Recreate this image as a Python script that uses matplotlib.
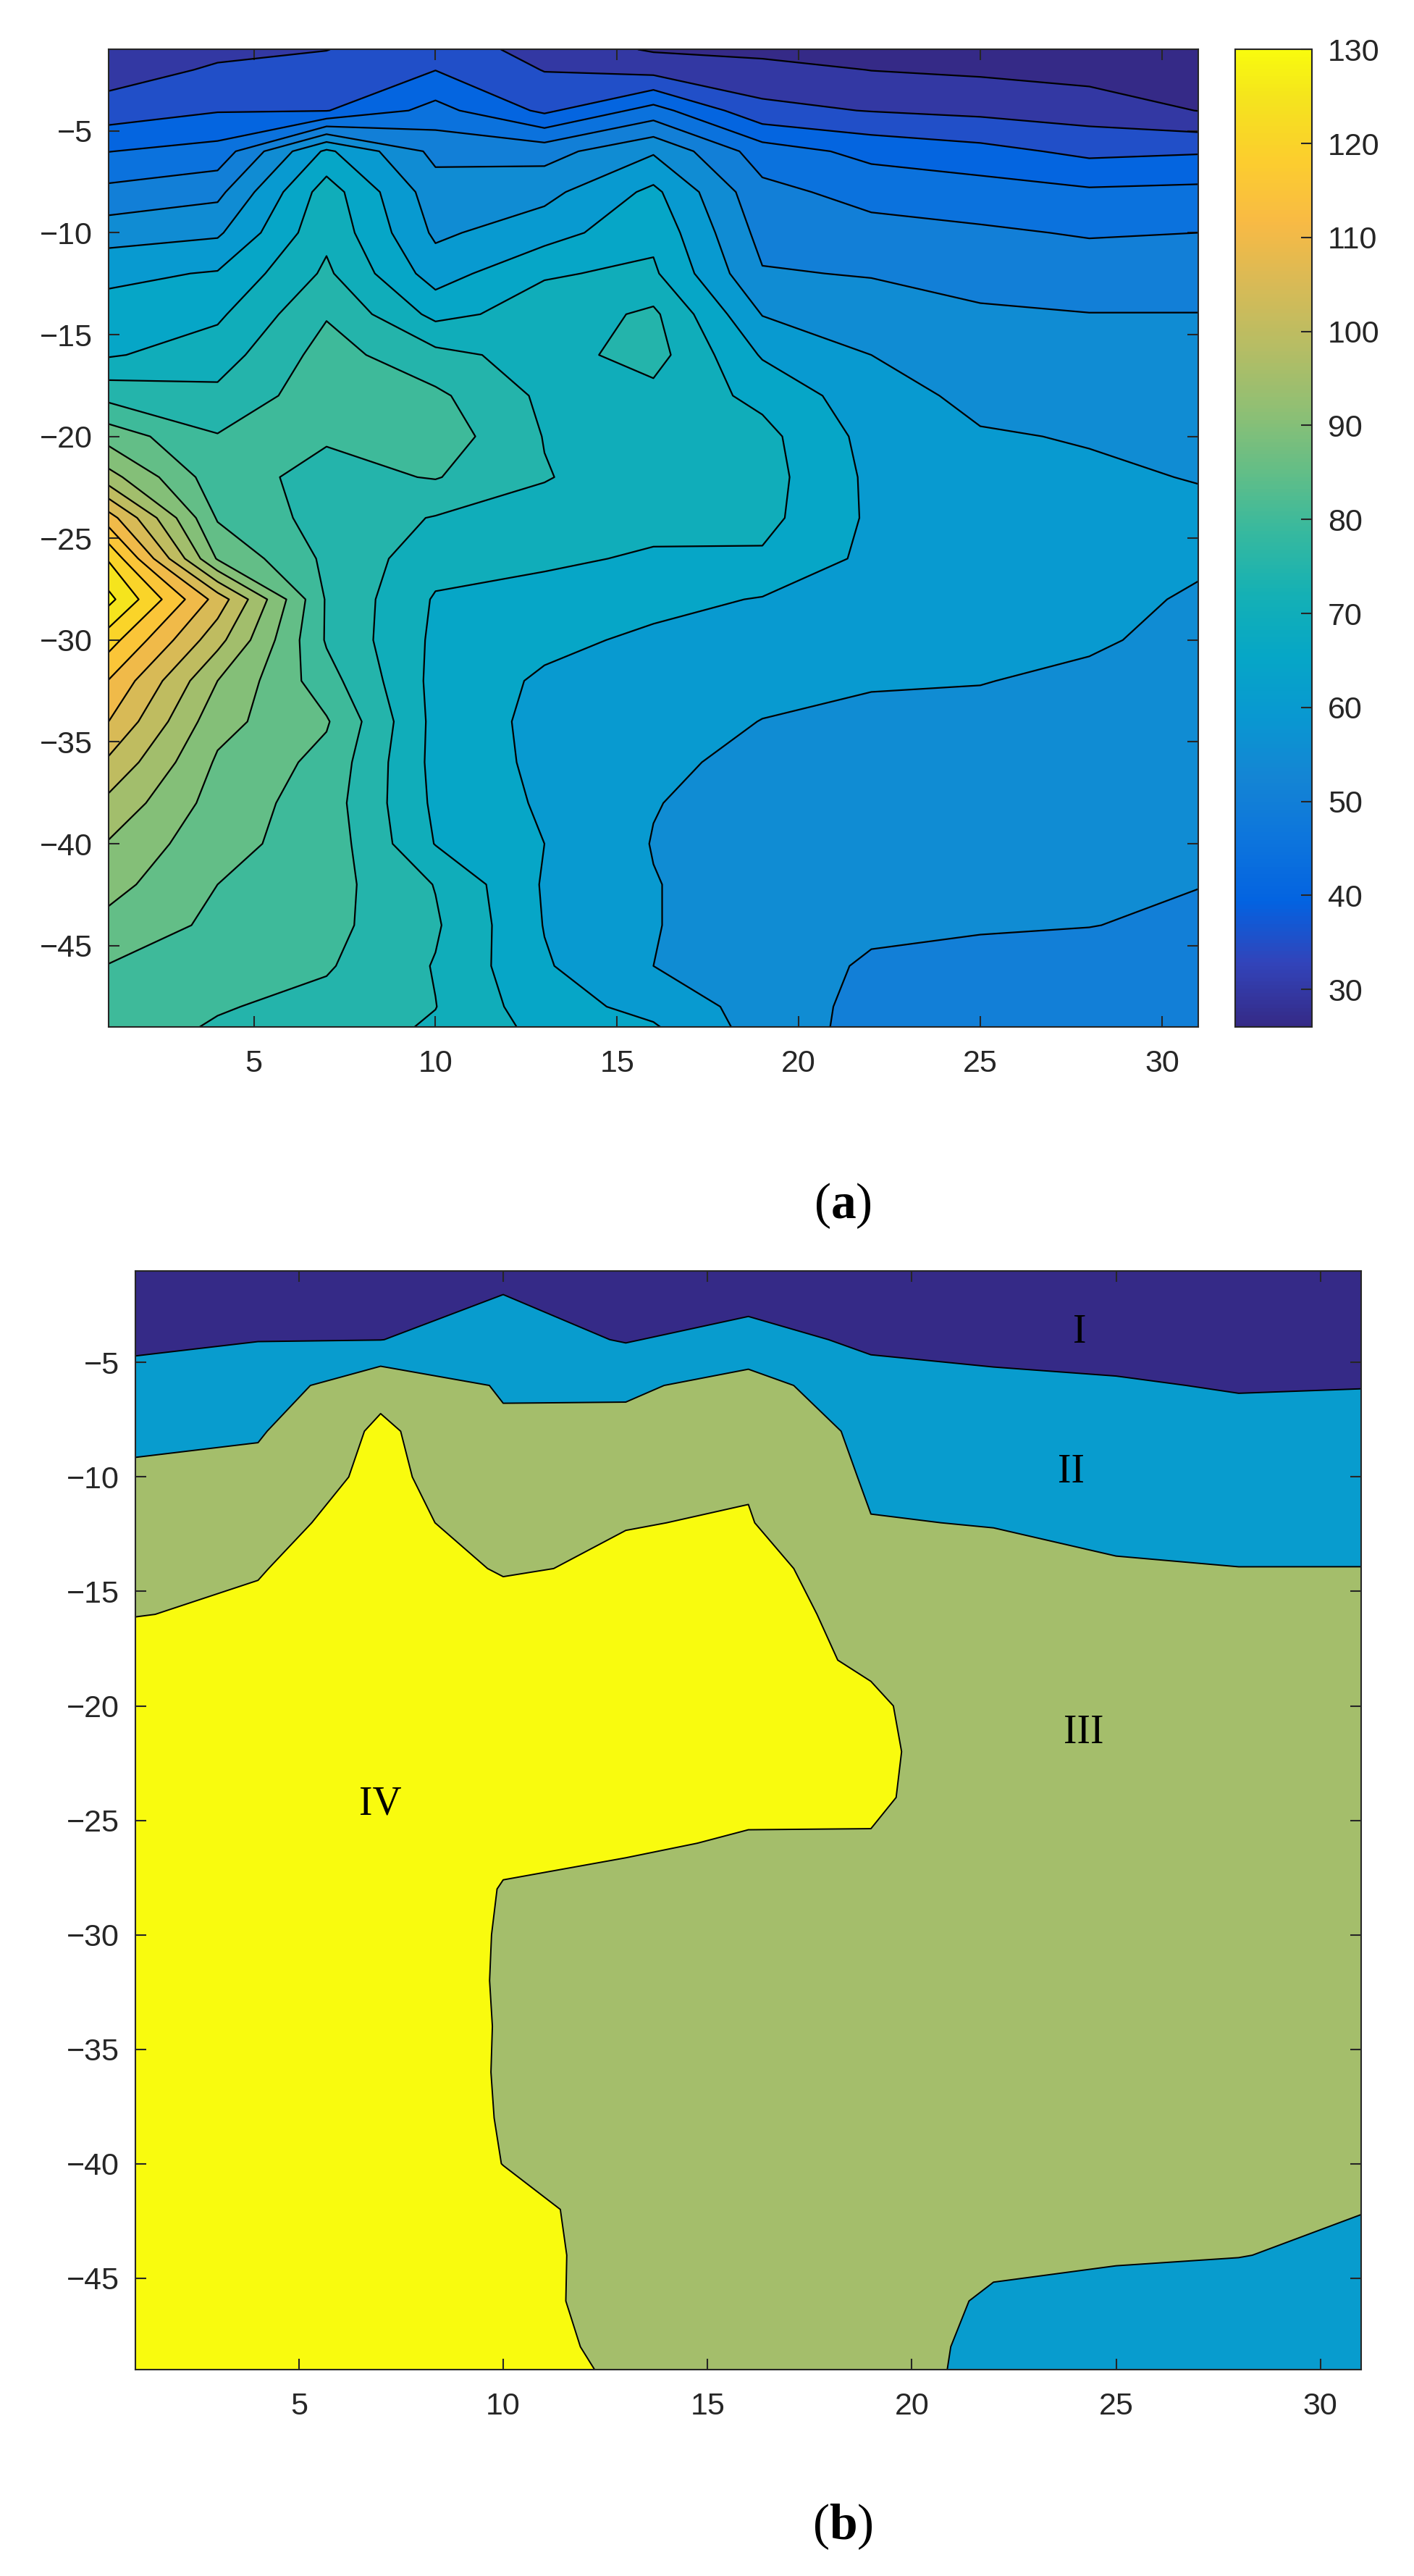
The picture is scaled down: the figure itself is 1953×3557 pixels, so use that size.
import numpy as np
import matplotlib
matplotlib.use("Agg")
import matplotlib.pyplot as plt
from matplotlib.colors import LinearSegmentedColormap, Normalize
from matplotlib.cm import ScalarMappable

plt.rcParams['font.family'] = ['Liberation Sans', 'DejaVu Sans']
plt.rcParams['mathtext.fontset'] = 'custom'
plt.rcParams['mathtext.rm'] = 'Liberation Serif'
plt.rcParams['mathtext.bf'] = 'Liberation Serif:bold'

# section stations (x) and depth rows (y)
station = [1, 4, 7, 10, 13, 16, 19, 22, 25, 28, 31]
depth = [-1, -2, -4, -6, -8, -10, -12, -14, -16, -18, -20, -22, -24,
         -26, -28, -30, -32, -34, -36, -38, -40, -42, -44, -46, -48, -49]

# values per station, top to bottom
st01 = [30.5, 32.5, 37.3, 44.9, 51.4, 57.7, 63.8, 67.0, 69.5, 78.4, 87.9, 96.9, 112.3,
        124.5, 131.5, 122.2, 114.8, 110.0, 104.1, 98.7, 94.6, 91.7, 88.5, 84.8, 83.0, 82.5]
st04 = [33.7, 35.7, 39.7, 46.8, 53.6, 59.2, 65.4, 69.1, 72.6, 76.2, 80.3, 82.0, 84.5,
        89.5, 108.0, 101.7, 95.0, 91.7, 89.3, 87.9, 86.4, 85.0, 83.9, 82.9, 80.4, 79.5]
st07 = [34.9, 36.5, 39.8, 66.0, 72.5, 73.8, 75.9, 79.6, 82.0, 83.0, 80.5, 78.5, 78.0,
        79.0, 79.5, 79.5, 82.0, 85.5, 83.5, 82.5, 83.0, 82.0, 81.5, 80.5, 78.5, 77.5]
st10 = [38.0, 39.9, 46.7, 53.6, 57.2, 59.1, 62.6, 68.6, 76.5, 81.0, 83.0, 80.3, 74.7,
        72.0, 69.5, 69.0, 68.5, 68.5, 68.5, 69.0, 69.8, 74.8, 75.6, 74.7, 75.1, 74.4]
st13 = [33.0, 34.8, 39.0, 53.0, 58.5, 62.8, 69.6, 72.0, 73.0, 74.0, 74.8, 75.3, 73.0,
        70.7, 68.5, 66.3, 64.2, 63.5, 63.8, 64.3, 65.0, 64.5, 64.8, 65.5, 67.0, 68.5]
st16 = [29.5, 33.2, 47.0, 59.4, 66.2, 68.8, 70.8, 76.0, 77.0, 73.5, 72.5, 72.0, 71.2,
        69.5, 66.5, 64.0, 63.0, 62.0, 61.2, 60.2, 59.8, 60.2, 60.2, 60.0, 63.5, 65.5]
st19 = [28.5, 31.8, 36.3, 47.5, 51.4, 53.3, 55.4, 59.8, 64.5, 68.7, 71.5, 72.0, 71.5,
        69.3, 64.7, 63.0, 61.3, 59.9, 58.5, 58.0, 57.8, 57.7, 57.7, 57.8, 57.8, 57.8]
st22 = [27.5, 29.9, 34.8, 43.5, 48.3, 51.7, 54.7, 57.4, 60.0, 62.0, 63.3, 64.0, 64.2,
        63.8, 63.0, 61.8, 60.3, 59.2, 58.5, 58.0, 57.5, 57.0, 56.0, 54.3, 53.5, 53.3]
st25 = [27.0, 29.2, 33.8, 41.6, 47.3, 50.7, 53.4, 55.6, 57.2, 58.8, 60.4, 61.2, 61.6,
        61.6, 61.3, 60.8, 60.1, 59.2, 58.4, 57.6, 56.8, 56.0, 55.3, 54.0, 53.0, 52.6]
st28 = [26.5, 28.2, 32.6, 38.8, 45.8, 49.6, 52.5, 55.1, 56.6, 58.2, 59.7, 60.7, 61.2,
        61.3, 61.0, 60.4, 59.4, 58.3, 57.5, 56.8, 56.2, 55.6, 55.1, 53.2, 52.5, 52.2]
st31 = [26.0, 27.5, 29.9, 39.5, 46.3, 50.0, 52.6, 55.1, 56.3, 57.4, 58.6, 59.8, 61.0,
        60.5, 59.6, 59.1, 58.5, 57.9, 57.2, 56.6, 56.0, 55.1, 54.2, 53.7, 53.2, 53.0]

levels_a = list(range(30, 131, 5))
cbar_ticks = list(range(30, 131, 10))
zone_bounds = [40, 55, 70]
zone_names = ['I', 'II', 'III', 'IV']
zone_x = [24.1, 23.9, 24.2, 7.0]
zone_y = [-3.7, -9.8, -21.2, -24.3]
x_ticks = [5, 10, 15, 20, 25, 30]
y_ticks = [-5, -10, -15, -20, -25, -30, -35, -40, -45]

# MATLAB parula, sampled from the 64-entry table
parula_rows = [
    (0, (0.2081, 0.1663, 0.5292)), (4, (0.1959, 0.2645, 0.7279)),
    (8, (0.0117, 0.3875, 0.8820)), (12, (0.0498, 0.4586, 0.8641)),
    (16, (0.0793, 0.5200, 0.8312)), (20, (0.0343, 0.5966, 0.8199)),
    (24, (0.0228, 0.6535, 0.7768)), (28, (0.0843, 0.6928, 0.7062)),
    (32, (0.2178, 0.7250, 0.6193)), (36, (0.3953, 0.7459, 0.5244)),
    (40, (0.5709, 0.7485, 0.4494)), (44, (0.7184, 0.7411, 0.3905)),
    (48, (0.8507, 0.7299, 0.3360)), (52, (0.9739, 0.7314, 0.2666)),
    (56, (0.9880, 0.8066, 0.1794)), (60, (0.9589, 0.8949, 0.1132)),
    (63, (0.9763, 0.9831, 0.0538)),
]
parula = LinearSegmentedColormap.from_list('parula', [(i / 63, c) for i, c in parula_rows])

grid = np.column_stack([st01, st04, st07, st10, st13, st16, st19, st22, st25, st28, st31])
X, Y = np.meshgrid(station, depth)

dark = '#262626'


def style_axes(ax):
    ax.set_xlim(1, 31)
    ax.set_ylim(-49, -1)
    ax.set_xticks(x_ticks)
    ax.set_yticks(y_ticks)
    ax.tick_params(direction='in', length=11, width=1.5, top=True, right=True,
                   labelsize=31, colors=dark, labelcolor=dark)
    ax.tick_params(axis='x', pad=22)
    ax.tick_params(axis='y', pad=16)
    for sp in ax.spines.values():
        sp.set_color(dark)
        sp.set_linewidth(1.5)


fig = plt.figure(figsize=(19.53, 35.57), dpi=100)

# (a) contour map
ax_a = fig.add_axes([0.0768, 0.6013, 0.7706, 0.3795])
norm = Normalize(26, 130)
bounds = [25] + levels_a + [grid.max() + 1]
fills = [parula(0.0)] + [parula(norm(v)) for v in levels_a]
ax_a.contourf(X, Y, grid, levels=bounds, colors=fills)
ax_a.contour(X, Y, grid, levels=levels_a, colors='black', linewidths=1.6)
style_axes(ax_a)

cax = fig.add_axes([0.8735, 0.6013, 0.0543, 0.3795])
cb = fig.colorbar(ScalarMappable(norm=norm, cmap=parula), cax=cax, ticks=cbar_ticks)
cb.outline.set_edgecolor(dark)
cb.outline.set_linewidth(1.5)
cax.tick_params(direction='in', length=11, width=1.5, labelsize=31, pad=16,
                colors=dark, labelcolor=dark, left=False, right=True)

fig.text(0.596, 0.5319, r'($\mathbf{a}$)', ha='center', va='center', fontsize=50,
         family='Liberation Serif')

# (b) zoning
ax_b = fig.add_axes([0.0958, 0.0801, 0.8669, 0.4265])
zone_colors = [parula(0.0), parula(1 / 3), parula(2 / 3), parula(1.0)]
zone_levels = [grid.min() - 1] + zone_bounds + [grid.max() + 1]
ax_b.contourf(X, Y, grid, levels=zone_levels, colors=zone_colors)
ax_b.contour(X, Y, grid, levels=zone_bounds, colors='black', linewidths=1.4)
for name, lx, ly in zip(zone_names, zone_x, zone_y):
    ax_b.text(lx, ly, name, ha='center', va='center', fontsize=40,
              family='Liberation Serif', color='black')
style_axes(ax_b)

fig.text(0.596, 0.0191, r'($\mathbf{b}$)', ha='center', va='center', fontsize=50,
         family='Liberation Serif')

fig.savefig('out.png', dpi=100, facecolor='white')
